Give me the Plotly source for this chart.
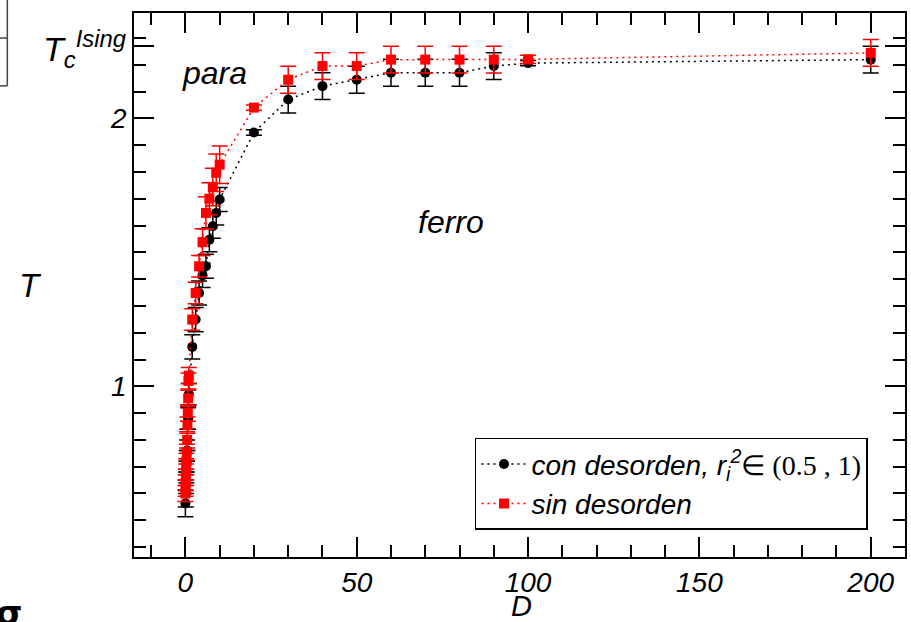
import plotly.graph_objects as go

# ---------------- data ----------------
black_D = [0, 0.1, 0.2, 0.3, 0.4, 0.5, 0.6, 0.8, 1, 2, 3, 4, 5, 6, 7, 8, 9, 10,
           20, 30, 40, 50, 60, 70, 80, 90, 100, 200]
black_T = [0.563, 0.60, 0.64, 0.68, 0.72, 0.76, 0.80, 0.88, 0.97, 1.147, 1.249, 1.348,
           1.414, 1.448, 1.547, 1.597, 1.647, 1.697,
           1.947, 2.07, 2.12, 2.144, 2.17, 2.17, 2.17, 2.195, 2.206, 2.219]
black_err = [0.05, 0.05, 0.04, 0.04, 0.04, 0.04, 0.04, 0.04, 0.04, 0.045, 0.045, 0.045,
             0.045, 0.045, 0.045, 0.045, 0.045, 0.045,
             0.01, 0.05, 0.05, 0.05, 0.05, 0.05, 0.05, 0.05, 0.01, 0.05]

red_D = [0, 0.05, 0.1, 0.15, 0.2, 0.25, 0.3, 0.4, 0.5, 0.6, 0.7, 0.8, 0.9, 1,
         2, 3, 4, 5, 6, 7, 8, 9, 10,
         20, 30, 40, 50, 60, 70, 80, 90, 100, 200]
red_T = [0.60, 0.62, 0.64, 0.66, 0.68, 0.70, 0.72, 0.754, 0.80, 0.855, 0.90, 0.955, 1.02, 1.04,
         1.249, 1.348, 1.448, 1.538, 1.647, 1.70, 1.744, 1.797, 1.827,
         2.04, 2.144, 2.195, 2.195, 2.219, 2.219, 2.219, 2.219, 2.22, 2.244]
red_err = [0.03, 0.03, 0.03, 0.03, 0.03, 0.03, 0.03, 0.03, 0.03, 0.03, 0.03, 0.03, 0.03, 0.03,
           0.04, 0.04, 0.04, 0.05, 0.06, 0.06, 0.07, 0.07, 0.07,
           0.01, 0.05, 0.05, 0.05, 0.05, 0.05, 0.05, 0.05, 0.015, 0.05]

x_ticks = [0, 50, 100, 150, 200]
y_ticks = [1, 2, 2.269]
y_ticktext = ["1", "2", ""]
TC_ISING = 2.269

black_name = ("con desorden, r<sub>i</sub><sup>2</sup>"
              "<span style='font-family:Liberation Serif;font-style:normal'>\u2208 (0.5 , 1)</span>")
red_name = "sin desorden"

FONT = "Liberation Sans, Arial, sans-serif"
DOTS = "2px,4px"

fig = go.Figure()
fig.add_trace(go.Scatter(
    x=black_D, y=black_T, mode="lines+markers", name=black_name,
    legendgroup="a",
    line=dict(color="black", width=1.5, dash=DOTS),
    marker=dict(symbol="circle", size=10, color="black"),
    error_y=dict(type="data", array=black_err, color="black", thickness=1.5, width=8),
))
fig.add_trace(go.Scatter(
    x=red_D, y=red_T, mode="lines+markers", name=red_name,
    legendgroup="b",
    line=dict(color="red", width=1.5, dash=DOTS),
    marker=dict(symbol="square", size=10, color="red"),
    error_y=dict(type="data", array=red_err, color="red", thickness=1.5, width=8),
))

axis_common = dict(
    showline=True, linecolor="black", linewidth=1.5, mirror="ticks",
    ticks="inside", ticklen=20, tickwidth=1.5, tickcolor="black",
    showgrid=False, zeroline=False,
    tickfont=dict(family=FONT, size=28, color="black", style="italic"),
)
fig.update_xaxes(
    range=[-15, 210], tickmode="array", tickvals=x_ticks,
    minor=dict(dtick=10, tick0=0, ticks="inside", ticklen=12, tickwidth=1.5, tickcolor="black"),
    ticklabelstandoff=0,
    **axis_common,
)
fig.update_yaxes(
    range=[0.363, 2.393], tickmode="array", tickvals=y_ticks, ticktext=y_ticktext,
    minor=dict(dtick=0.1, tick0=0, ticks="inside", ticklen=12, tickwidth=1.5, tickcolor="black"),
    ticklabelstandoff=0,
    **axis_common,
)

ann_font = dict(family=FONT, color="black", style="italic")
fig.update_layout(
    width=911, height=622,
    margin=dict(l=134, r=4, t=13, b=65),
    plot_bgcolor="white", paper_bgcolor="white",
    showlegend=True,
    legend=dict(
        x=0.952, y=0.05, xanchor="right", yanchor="bottom",
        bgcolor="white", bordercolor="black", borderwidth=1.5,
        font=dict(family=FONT, size=28, color="black", style="italic"),
        tracegroupgap=0, itemwidth=45,
    ),
    annotations=[
        dict(text="para", x=8.4, y=2.17, xref="x", yref="y", showarrow=False,
             xanchor="center", yanchor="middle",
             font=dict(size=32, **ann_font)),
        dict(text="ferro", x=77.4, y=1.612, xref="x", yref="y", showarrow=False,
             xanchor="center", yanchor="middle",
             font=dict(size=32, **ann_font)),
        dict(text="T<sub>c</sub><sup>Ising</sup>", x=-0.006, y=TC_ISING - 0.012, xref="paper", yref="y",
             xanchor="right", yanchor="middle", showarrow=False,
             font=dict(size=34, **ann_font)),
        dict(text="T", x=-0.134, y=0.5, xref="paper", yref="paper", showarrow=False,
             xanchor="center", yanchor="middle",
             font=dict(size=33, **ann_font)),
        dict(text="D", x=0.502, y=-0.09, xref="paper", yref="paper", showarrow=False,
             xanchor="center", yanchor="middle",
             font=dict(size=29, **ann_font)),
        dict(text="<b>\u03c3</b>", x=-0.162, y=-0.062, xref="paper", yref="paper",
             xanchor="center", yanchor="top", showarrow=False,
             font=dict(family="DejaVu Sans", size=34, color="black")),
    ],
    shapes=[
        dict(type="line", xref="paper", yref="paper", x0=-0.1643, x1=-0.1643, y0=1.05, y1=0.866,
             line=dict(color="#444", width=1.5)),
        dict(type="line", xref="paper", yref="paper", x0=-0.18, x1=-0.1643, y0=0.954, y1=0.954,
             line=dict(color="#444", width=1.5)),
        dict(type="line", xref="paper", yref="paper", x0=-0.18, x1=-0.1643, y0=0.866, y1=0.866,
             line=dict(color="#444", width=1.5)),
    ],
)

fig.write_html("out.html")
